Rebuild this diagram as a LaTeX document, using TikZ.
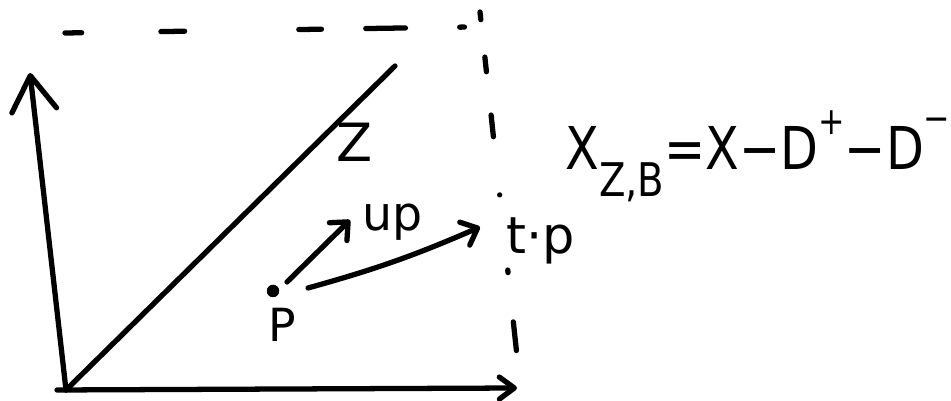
\documentclass[tikz,border=0pt]{standalone}
\usepackage{fontspec}
\setmainfont{DejaVu Sans}
\usetikzlibrary{arrows.meta}
\begin{document}
\begin{tikzpicture}[x=0.02cm,y=-0.02cm,
  pen/.style={line width=3pt,line cap=round,line join=round},
  axistipbig/.style={-{Straight Barb[round,length=0.7cm,width=0.9cm]}},
  axistip/.style={-{Straight Barb[round,length=0.3cm,width=0.44cm]}},
  smalltip/.style={-{Straight Barb[round,length=0.28cm,width=0.5cm]}},
  lbl/.style={inner sep=0pt},
]
\useasboundingbox[fill=white] (0,0) rectangle (951,401);

% coordinates
\coordinate (O) at (66,390);
\coordinate (xs) at (57,390);
\coordinate (xtip) at (517,388);
\coordinate (ytip) at (30,73);
\coordinate (ztop) at (395,66);
\coordinate (tl) at (65,33);
\coordinate (tr) at (470,27);
\coordinate (vt) at (480,12);
\coordinate (vb) at (517,356);
\coordinate (upstart) at (287,282);
\coordinate (uptip) at (350,220);
\coordinate (tpstart) at (308,288);
\coordinate (tptip) at (480,227);

% axes and diagonal
\draw[pen,axistip] (xs) -- (xtip);
\draw[pen,axistipbig] (O) -- (ytip);
\draw[pen] (O) -- (ztop);

% dashed box
\draw[pen,dash pattern=on 9.5pt off 45.1pt on 13.5pt off 65.0pt on 12.9pt off 25.2pt on 22.6pt off 30.9pt on 2.7pt off 20pt] (tl) -- (tr);
\draw[pen,dash pattern=on 4.4pt off 21.4pt on 8.4pt off 24.8pt on 12.4pt off 33.3pt on 0pt off 43.0pt on 1.5pt off 28.2pt on 16.4pt off 20pt] (vt) -- (vb);

% point p and vectors
\node[circle,fill=black,inner sep=0pt,minimum size=0.25cm] (p) at (273,291) {};
\draw[pen,smalltip] (upstart) -- (uptip);
\draw[pen,smalltip] (tpstart) to[bend right=4] (tptip);

% labels
\node[lbl,font=\fontsize{30}{30}\selectfont] (zlabel) at (355,142) {Z};
\node[lbl,anchor=base,font=\fontsize{27}{28}\selectfont] (uplabel) at (393,231) {up};
\node[lbl,anchor=base,font=\fontsize{29}{30}\selectfont] (tplabel) at (541,254) {t·p};
\node[lbl,anchor=base,font=\fontsize{26}{28}\selectfont] (plabel) at (282,342) {P};

% formula
\node[lbl,anchor=base west,font=\fontsize{28}{30}\selectfont] (formula) at (565,170)
  {\scalebox{1}[1.2]{X\raisebox{-0.45cm}{\fontsize{22}{22}\selectfont Z,B}=X−D\raisebox{0.6cm}{\fontsize{18}{18}\selectfont +}−D\raisebox{0.65cm}{\fontsize{18}{18}\selectfont −}}};
\end{tikzpicture}
\end{document}
